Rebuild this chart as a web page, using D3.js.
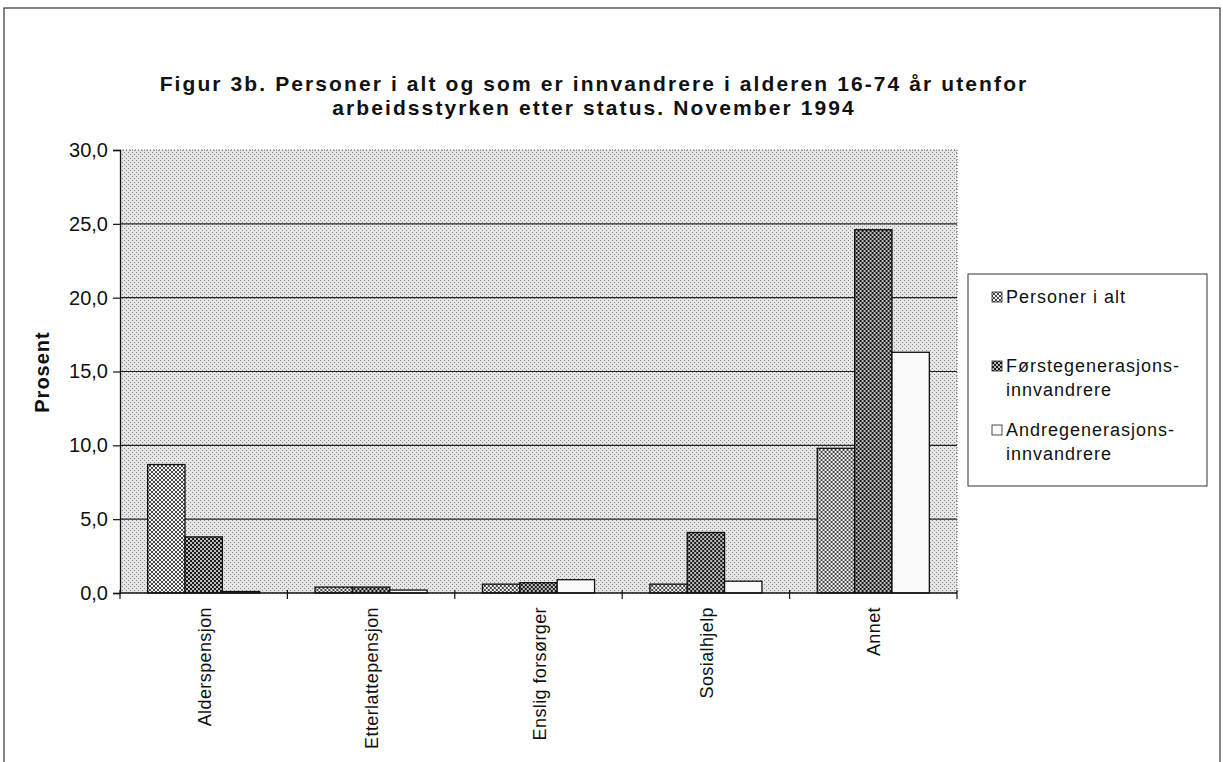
<!DOCTYPE html>
<html>
<head>
<meta charset="utf-8" />
<title>Figur 3b</title>
<script src="https://d3js.org/d3.v7.min.js"></script>
<style>
  body { margin: 0; background: white; }
  svg { font-family: "Liberation Sans", Arial, Helvetica, sans-serif; }
</style>
</head>
<body>
<svg id="viz"></svg>
<script>
// data
var categories = ["Alderspensjon", "Etterlattepensjon", "Enslig forsørger", "Sosialhjelp", "Annet"];
var seriesNames = ["Personer i alt", "Førstegenerasjons-innvandrere", "Andregenerasjons-innvandrere"];
var personerIAlt = [8.7, 0.4, 0.6, 0.6, 9.8];
var forstegen = [3.8, 0.4, 0.7, 4.1, 24.6];
var andregen = [0.1, 0.2, 0.9, 0.8, 16.3];
var yTicks = [0, 5, 10, 15, 20, 25, 30];
var legendLines = [["Personer i alt"], ["Førstegenerasjons-", "innvandrere"], ["Andregenerasjons-", "innvandrere"]];

var width = 1223, height = 762;
var svg = d3.select("#viz").attr("width", width).attr("height", height);

// patterns
var defs = svg.append("defs");
var bg = defs.append("pattern").attr("id", "bgdots").attr("patternUnits", "userSpaceOnUse")
  .attr("width", 4).attr("height", 4);
bg.append("rect").attr("width", 4).attr("height", 4).attr("fill", "#e6e6e6");
bg.append("rect").attr("x", 0).attr("y", 0).attr("width", 1).attr("height", 1).attr("fill", "#8a8a8a");
bg.append("rect").attr("x", 2).attr("y", 2).attr("width", 1).attr("height", 1).attr("fill", "#8a8a8a");

var p1 = defs.append("pattern").attr("id", "hatch").attr("patternUnits", "userSpaceOnUse")
  .attr("width", 4).attr("height", 4);
p1.append("rect").attr("width", 4).attr("height", 4).attr("fill", "#f2f2f2");
p1.append("path").attr("d", "M0,0L4,4M0,4L4,0").attr("stroke", "#333").attr("stroke-width", 0.9);

var p2 = defs.append("pattern").attr("id", "check").attr("patternUnits", "userSpaceOnUse")
  .attr("width", 4).attr("height", 4);
p2.append("rect").attr("width", 4).attr("height", 4).attr("fill", "#1a1a1a");
p2.append("rect").attr("x", 0).attr("y", 0).attr("width", 2).attr("height", 2).attr("fill", "#bbb");
p2.append("rect").attr("x", 2).attr("y", 2).attr("width", 2).attr("height", 2).attr("fill", "#bbb");

var fills = ["url(#hatch)", "url(#check)", "#fafafa"];

// outer frame
svg.append("rect").attr("x", 4).attr("y", 8).attr("width", 1216).attr("height", 800)
  .attr("fill", "none").attr("stroke", "#333").attr("stroke-width", 1.2);

// title
var title = svg.append("text").attr("text-anchor", "middle").attr("font-weight", "bold")
  .attr("font-size", 21).attr("letter-spacing", 2.1).attr("fill", "#111");
title.append("tspan").attr("x", 594).attr("y", 91).text("Figur 3b.  Personer i alt og som er innvandrere i alderen 16-74 år utenfor");
title.append("tspan").attr("x", 594).attr("y", 115).text("arbeidsstyrken etter status. November 1994");

var margin = { left: 120, right: 957, top: 150, bottom: 593 };

var x = d3.scaleBand().domain(categories).range([margin.left, margin.right]).paddingInner(0).paddingOuter(0);
var x1 = d3.scaleBand().domain(d3.range(3)).range([0, x.bandwidth()]).paddingInner(0).paddingOuter(0.74);
var y = d3.scaleLinear().domain([0, 30]).range([margin.bottom, margin.top]);

// plot background
svg.append("rect").attr("x", margin.left).attr("y", margin.top)
  .attr("width", margin.right - margin.left).attr("height", margin.bottom - margin.top)
  .attr("fill", "url(#bgdots)");

// gridlines
svg.append("g").selectAll("line").data(yTicks.filter(function(d) { return d > 0 && d < 30; }))
  .enter().append("line")
  .attr("x1", margin.left).attr("x2", margin.right)
  .attr("y1", function(d) { return y(d); }).attr("y2", function(d) { return y(d); })
  .attr("stroke", "#222").attr("stroke-width", 1.2);

// dotted top and right edges of plot area
svg.append("path")
  .attr("d", "M" + margin.left + "," + margin.top + "H" + margin.right + "V" + margin.bottom)
  .attr("fill", "none").attr("stroke", "#555").attr("stroke-width", 1).attr("stroke-dasharray", "1,2");

// bars
var rows = categories.map(function(c, i) {
  return { cat: c, vals: [personerIAlt[i], forstegen[i], andregen[i]] };
});
var groups = svg.append("g").selectAll("g").data(rows).enter().append("g")
  .attr("transform", function(d) { return "translate(" + x(d.cat) + ",0)"; });
groups.selectAll("rect").data(function(d) { return d.vals; }).enter().append("rect")
  .attr("x", function(d, i) { return x1(i); })
  .attr("width", x1.bandwidth())
  .attr("y", function(d) { return y(d); })
  .attr("height", function(d) { return y(0) - y(d); })
  .attr("fill", function(d, i) { return fills[i]; })
  .attr("stroke", "#111").attr("stroke-width", 1.3);

// y axis
var yAxis = d3.axisLeft(y).tickValues(yTicks).tickSize(7).tickPadding(5)
  .tickFormat(function(d) { return d3.format(".1f")(d).replace(".", ","); });
var ya = svg.append("g").attr("transform", "translate(" + margin.left + ",0)").call(yAxis);
ya.select(".domain").attr("stroke", "#111").attr("stroke-width", 1.3);
ya.selectAll(".tick line").attr("stroke", "#111").attr("stroke-width", 1.2);
ya.selectAll("text").attr("font-size", 20).attr("fill", "#111").attr("font-family", "Liberation Sans, Arial, sans-serif");

// x axis
svg.append("line").attr("x1", margin.left).attr("x2", margin.right)
  .attr("y1", y(0)).attr("y2", y(0)).attr("stroke", "#111").attr("stroke-width", 1.4);
var bounds = categories.map(function(c) { return x(c); }).concat([margin.right]);
svg.append("g").selectAll("line").data(bounds).enter().append("line")
  .attr("x1", function(d) { return d; }).attr("x2", function(d) { return d; })
  .attr("y1", y(0) - 3).attr("y2", y(0) + 6)
  .attr("stroke", "#111").attr("stroke-width", 1.2);

svg.append("g").selectAll("text").data(categories).enter().append("text")
  .attr("transform", function(d) {
    return "translate(" + (x(d) + x.bandwidth() / 2 + 7) + "," + (y(0) + 14) + ") rotate(-90)";
  })
  .attr("text-anchor", "end").attr("font-size", 18).attr("letter-spacing", 0.4).attr("fill", "#111")
  .text(function(d) { return d; });

// y label
svg.append("text").attr("transform", "translate(49,372) rotate(-90)")
  .attr("text-anchor", "middle").attr("font-weight", "bold").attr("font-size", 20)
  .attr("letter-spacing", 1).attr("fill", "#111")
  .text("Prosent");

// legend
var lg = svg.append("g");
lg.append("rect").attr("x", 968).attr("y", 274).attr("width", 239).attr("height", 212)
  .attr("fill", "white").attr("stroke", "#333").attr("stroke-width", 1);
var legendY = [303, 372, 436];
legendLines.forEach(function(lines, i) {
  lg.append("rect").attr("x", 992).attr("y", legendY[i] - 11).attr("width", 10).attr("height", 10)
    .attr("fill", fills[i]).attr("stroke", "#222").attr("stroke-width", 0.8);
  var t = lg.append("text").attr("font-size", 18).attr("letter-spacing", 1).attr("fill", "#111");
  lines.forEach(function(l, j) {
    t.append("tspan").attr("x", 1006).attr("y", legendY[i] + j * 24).text(l);
  });
});
</script>
</body>
</html>
